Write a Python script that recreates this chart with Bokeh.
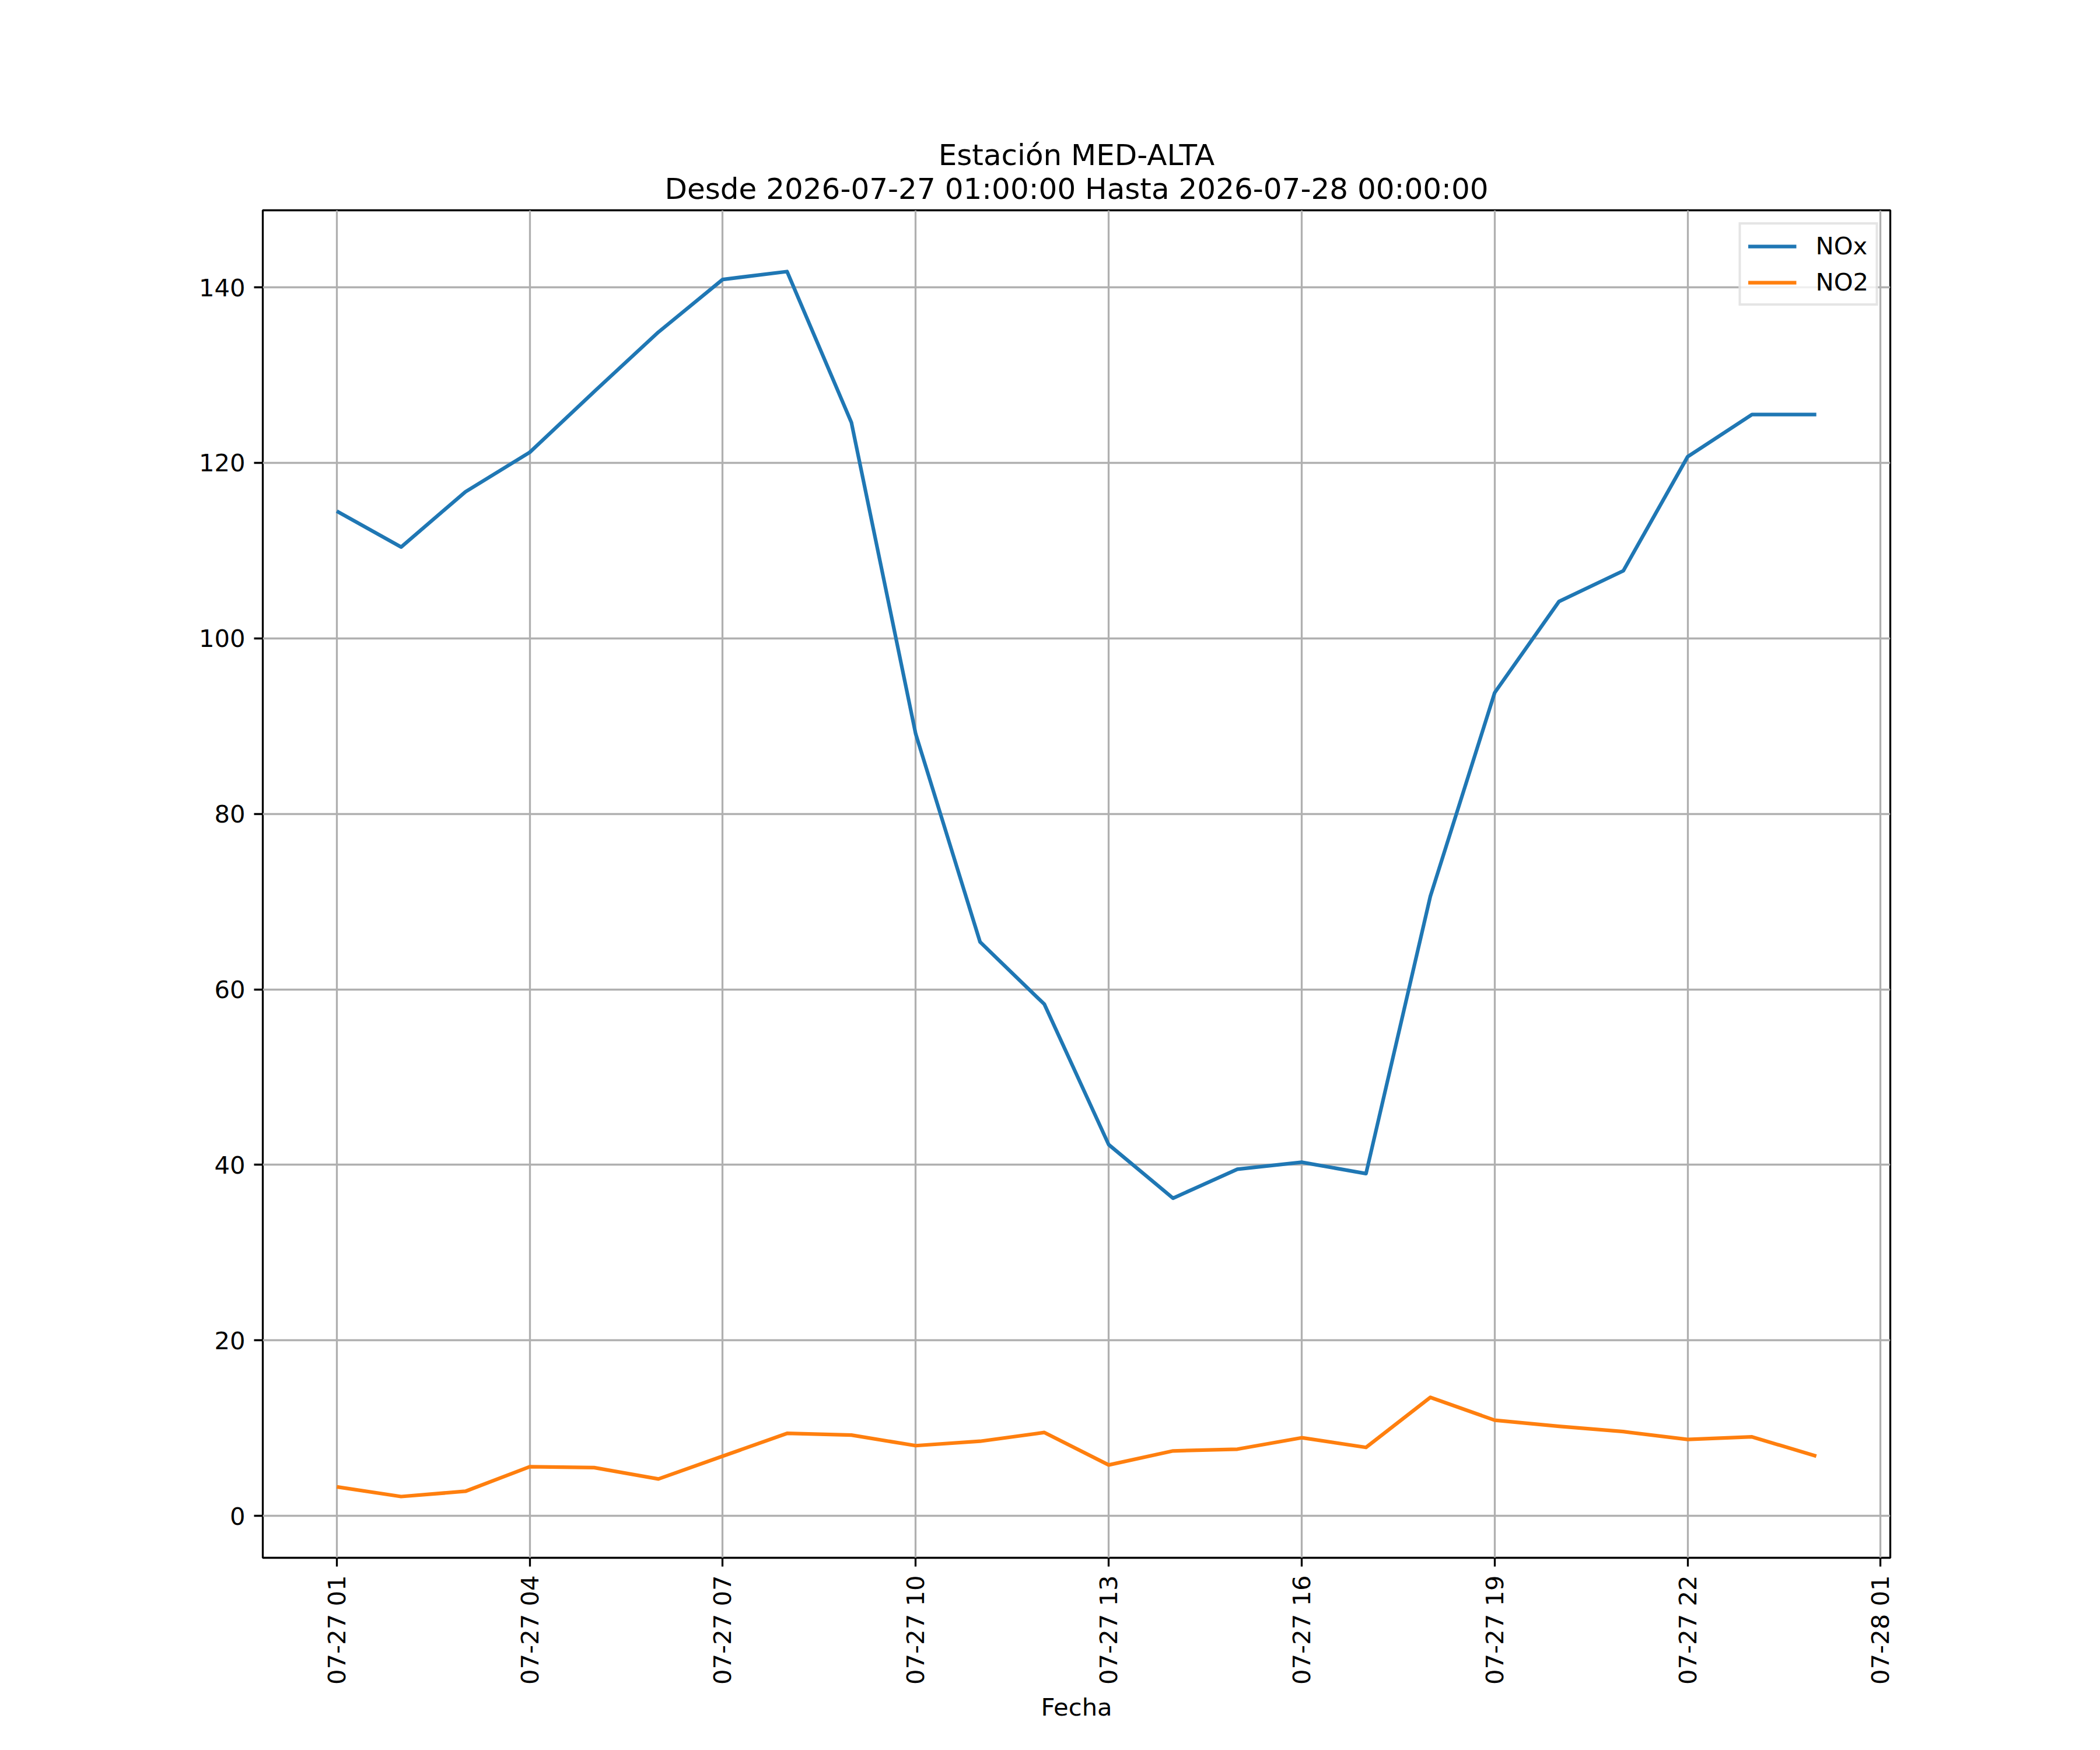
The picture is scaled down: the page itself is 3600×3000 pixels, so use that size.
import math

import pandas as pd

from bokeh.embed import file_html
from bokeh.models import (ColumnDataSource, DatetimeTickFormatter, FixedTicker,
                          Range1d, SingleIntervalTicker, Title)
from bokeh.plotting import figure
from bokeh.resources import INLINE

# datos de la estacion
station = "MED-ALTA"
start = "2026-07-27 01:00:00"
end = "2026-07-28 00:00:00"

nox = [114.5, 110.4, 116.7, 121.2, 128.1, 134.9, 140.9, 141.8, 124.6, 89.1,
       65.4, 58.3, 42.3, 36.2, 39.5, 40.3, 39.0, 70.6, 93.8, 104.2,
       107.7, 120.7, 125.5, 125.5]
no2 = [3.3, 2.2, 2.8, 5.6, 5.5, 4.2, 6.8, 9.4, 9.2, 8.0,
       8.5, 9.5, 5.8, 7.4, 7.6, 8.9, 7.8, 13.5, 10.9, 10.2,
       9.6, 8.7, 9.0, 6.8]

tick_start = "2026-07-27 01:00:00"
tick_end = "2026-07-28 01:00:00"
tick_step = "3h"
y_step = 20

FONT = "DejaVu Sans"
BLUE = "#1f77b4"
ORANGE = "#ff7f0e"

fechas = pd.date_range(start, end, freq="1h")
source = ColumnDataSource(data=dict(Fecha=fechas, NOx=nox, NO2=no2))

# margenes del 5% como matplotlib
x0 = fechas[0].value // 10**6
x1 = fechas[-1].value // 10**6
xpad = (x1 - x0) * 0.05
ymin = min(min(nox), min(no2))
ymax = max(max(nox), max(no2))
ypad = (ymax - ymin) * 0.05

p = figure(width=3584, height=2984, x_axis_type="datetime",
           output_backend="svg", toolbar_location=None,
           x_range=Range1d(x0 - xpad, x1 + xpad),
           y_range=Range1d(ymin - ypad, ymax + ypad),
           min_border_left=450, min_border_right=344,
           min_border_top=360, min_border_bottom=314)

p.add_layout(Title(text=f"Estación {station}\nDesde {start} Hasta {end}",
                   align="center", text_align="center",
                   text_font=FONT, text_font_size="50px",
                   text_font_style="normal", text_color="black",
                   text_line_height=1.0, standoff=16), "above")

p.line(x="Fecha", y="NOx", source=source, color=BLUE, line_width=6.25,
       line_join="round", legend_label="NOx")
p.line(x="Fecha", y="NO2", source=source, color=ORANGE, line_width=6.25,
       line_join="round", legend_label="NO2")

ticks = [t.value // 10**6 for t in pd.date_range(tick_start, tick_end, freq=tick_step)]
p.xaxis.ticker = FixedTicker(ticks=ticks, minor_ticks=[])
fmt = "%m-%d %H"
p.xaxis.formatter = DatetimeTickFormatter(hours=fmt, hourmin=fmt, days=fmt,
                                          minutes=fmt, months=fmt)
p.xaxis.major_label_orientation = math.pi / 2
p.xaxis.axis_label = "Fecha"
p.yaxis.ticker = SingleIntervalTicker(interval=y_step, num_minor_ticks=0)

for ax in (p.xaxis, p.yaxis):
    ax.axis_line_color = None
    ax.major_tick_line_color = "black"
    ax.major_tick_line_width = 3.3
    ax.major_tick_out = 15
    ax.major_tick_in = 0
    ax.minor_tick_line_color = None
    ax.major_label_standoff = 15
    ax.major_label_text_font = FONT
    ax.major_label_text_font_size = "41.7px"
    ax.major_label_text_color = "black"
    ax.axis_label_text_font = FONT
    ax.axis_label_text_font_size = "41.7px"
    ax.axis_label_text_font_style = "normal"
    ax.axis_label_text_color = "black"
    ax.axis_label_standoff = 11

p.grid.grid_line_color = "#b0b0b0"
p.grid.grid_line_width = 3.3

p.outline_line_color = "black"
p.outline_line_width = 3.3
p.outline_line_alpha = 1.0

p.legend.location = "top_right"
p.legend.margin = 21
p.legend.padding = 12
p.legend.spacing = 13
p.legend.glyph_width = 83
p.legend.glyph_height = 42
p.legend.label_height = 42
p.legend.label_standoff = 33
p.legend.label_text_font = FONT
p.legend.label_text_font_size = "41.7px"
p.legend.label_text_color = "black"
p.legend.border_line_color = "#cccccc"
p.legend.border_line_width = 4
p.legend.background_fill_alpha = 0.8

open("out.html", "w").write(file_html(p, INLINE))
